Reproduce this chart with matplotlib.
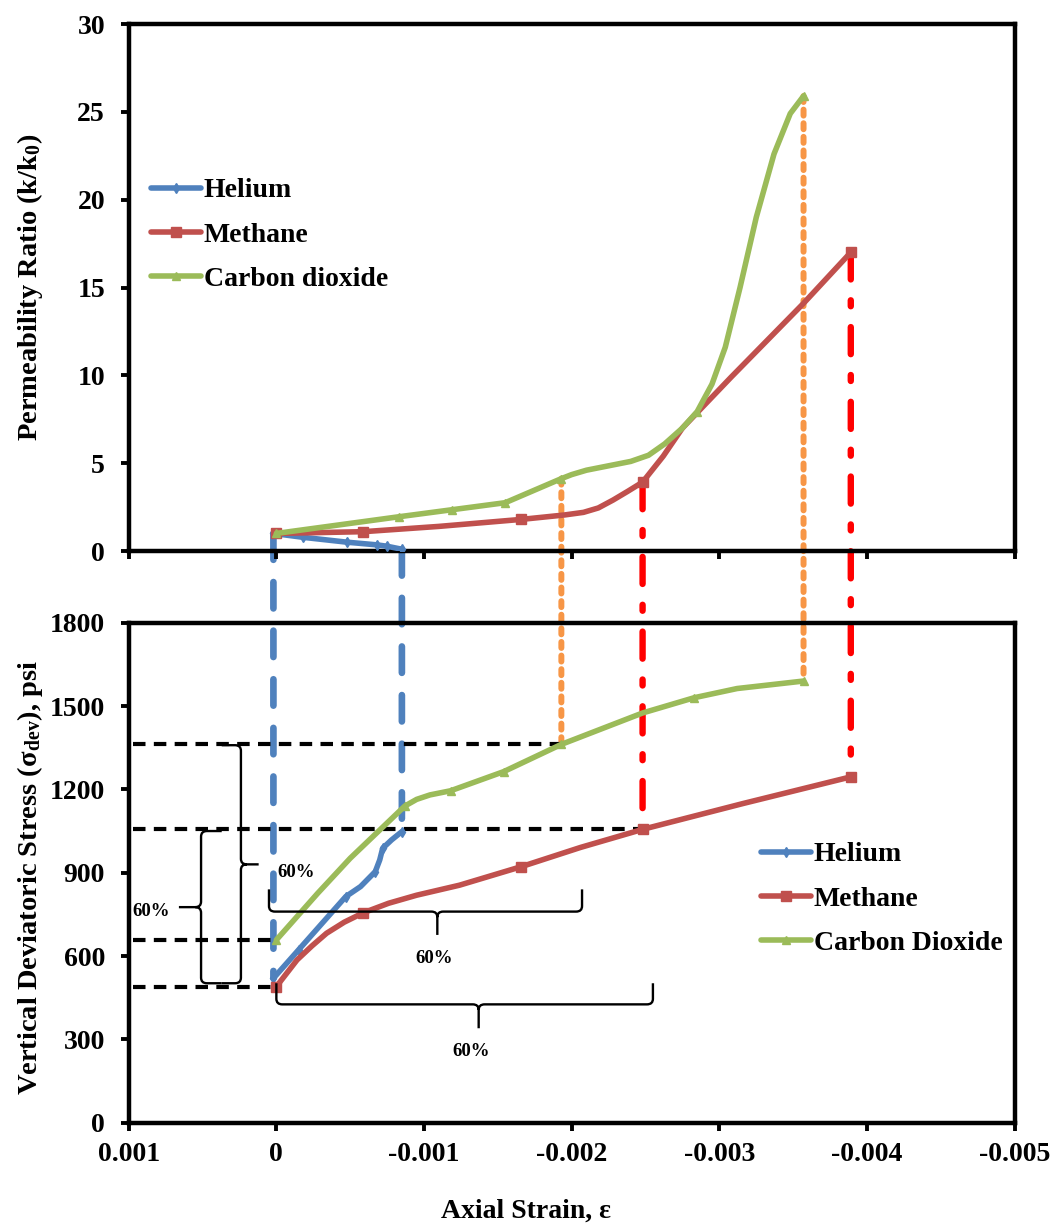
"""Permeability ratio and deviatoric stress vs axial strain (He, CH4, CO2)."""
import numpy as np
import matplotlib
matplotlib.use('Agg')
import matplotlib.pyplot as plt
from matplotlib.patches import ConnectionPatch, PathPatch
from matplotlib.path import Path

# ---- data ----
strain_ticks = [0.001, 0.0, -0.001, -0.002, -0.003, -0.004, -0.005]
strain_labels = ["0.001", "0", "-0.001", "-0.002", "-0.003", "-0.004", "-0.005"]
perm_ticks = [0, 5, 10, 15, 20, 25, 30]
stress_ticks = [0, 300, 600, 900, 1200, 1500, 1800]

# permeability ratio k/k0 (top panel)
he_k_x = [0.00002, -0.00018, -0.00048, -0.00068, -0.00075, -0.00085]
he_k_y = [1.0, 0.78, 0.5, 0.35, 0.27, 0.1]
ch4_k_x = [0.0, -0.00059, -0.0011, -0.00166, -0.00195, -0.00208, -0.00218,
           -0.00228, -0.00238, -0.00248, -0.00262, -0.00275, -0.00308,
           -0.00357, -0.00389]
ch4_k_y = [1.0, 1.1, 1.4, 1.8, 2.05, 2.2, 2.45, 2.9, 3.4, 3.92, 5.4, 7.0,
           9.9, 14.1, 17.0]
co2_k_x = [0.0, -0.00083, -0.00119, -0.00155, -0.00193, -0.002, -0.0021,
           -0.00225, -0.0024, -0.00252, -0.00263, -0.00275, -0.00285,
           -0.00295, -0.00304, -0.00314, -0.00325, -0.00337, -0.00348, -0.00357]
co2_k_y = [1.0, 1.95, 2.35, 2.75, 4.12, 4.35, 4.6, 4.85, 5.1, 5.45, 6.1,
           7.0, 7.94, 9.5, 11.6, 15.0, 19.0, 22.6, 24.9, 25.9]

# deviatoric stress, psi (bottom panel)
he_s_x = [0.00002, -0.00015, -0.00047, -0.00057, -0.00067, -0.0007, -0.00072,
          -0.00078, -0.00085]
he_s_y = [520, 622, 814, 850, 904, 946, 988, 1018, 1048]
ch4_s_x = [0.0, -0.00007, -0.00014, -0.00024, -0.00034, -0.00046, -0.00059,
           -0.00076, -0.00095, -0.00124, -0.00166, -0.00206, -0.00248,
           -0.00316, -0.00389]
ch4_s_y = [490, 538, 586, 636, 682, 722, 756, 790, 819, 855, 922, 991, 1056,
           1149, 1245]
co2_s_x = [0.0, -0.00028, -0.0005, -0.00087, -0.00095, -0.00104, -0.00118,
           -0.00154, -0.00193, -0.00248, -0.00283, -0.00312, -0.00357]
co2_s_y = [658, 826, 952, 1140, 1164, 1180, 1195, 1264, 1362, 1475, 1530,
           1563, 1590]

# indices carrying a marker (the rest are points along Excel's smoothed line)
he_k_mk = [0, 1, 2, 3, 4, 5]
ch4_k_mk = [0, 1, 3, 9, 14]
co2_k_mk = [0, 1, 2, 3, 4, 12, 19]
he_s_mk = [0, 1, 2, 4, 6, 8]
ch4_s_mk = [0, 6, 10, 12, 14]
co2_s_mk = [0, 3, 6, 7, 8, 10, 12]

plt.rcParams['font.family'] = ['Liberation Serif', 'DejaVu Serif']
plt.rcParams['font.weight'] = 'bold'
plt.rcParams['axes.labelweight'] = 'bold'
plt.rcParams['mathtext.fontset'] = 'custom'
plt.rcParams['mathtext.rm'] = 'Liberation Serif:bold'
plt.rcParams['mathtext.it'] = 'Liberation Serif:italic:bold'
plt.rcParams['mathtext.bf'] = 'Liberation Serif:bold'
plt.rcParams['lines.scale_dashes'] = False
plt.rcParams['axes.unicode_minus'] = False

C_HE, C_CH4, C_CO2 = '#4F81BD', '#C0504D', '#9BBB59'
W, H = 1053, 1225

def fx(px): return px / W
def fy(py): return 1 - py / H

fig = plt.figure(figsize=(W / 100, H / 100), dpi=100)
ax_k = fig.add_axes([fx(128.7), fy(551), fx(1014.7) - fx(128.7), fy(24) - fy(551)])
ax_s = fig.add_axes([fx(128.7), fy(1122.7), fx(1014.7) - fx(128.7), fy(622.7) - fy(1122.7)])

for ax in (ax_k, ax_s):
    ax.set_facecolor('none')
    ax.set_xlim(strain_ticks[0], strain_ticks[-1])
    ax.set_xticks(strain_ticks)
    for s in ax.spines.values():
        s.set_linewidth(3.2)
    ax.tick_params(direction='out', length=6, width=2.8, labelsize=20)
    ax.tick_params(axis='y', pad=11)
    ax.tick_params(axis='x', pad=8)

ax_k.set_ylim(0, 30); ax_k.set_yticks(perm_ticks)
ax_k.tick_params(axis='x', labelbottom=False)
ax_s.set_ylim(0, 1800); ax_s.set_yticks(stress_ticks)
ax_s.set_xticklabels(strain_labels)

def series(ax, x, y, mk, color, marker, ms, label):
    ax.plot(x, y, color=color, lw=4, marker=marker, ms=ms, markevery=mk,
            solid_joinstyle='round', solid_capstyle='round', label=label, zorder=3)

series(ax_k, he_k_x, he_k_y, he_k_mk, C_HE, 'd', 5, 'Helium')
series(ax_k, ch4_k_x, ch4_k_y, ch4_k_mk, C_CH4, 's', 7, 'Methane')
series(ax_k, co2_k_x, co2_k_y, co2_k_mk, C_CO2, '^', 6, 'Carbon dioxide')
series(ax_s, he_s_x, he_s_y, he_s_mk, C_HE, 'd', 5, 'Helium')
series(ax_s, ch4_s_x, ch4_s_y, ch4_s_mk, C_CH4, 's', 7, 'Methane')
series(ax_s, co2_s_x, co2_s_y, co2_s_mk, C_CO2, '^', 6, 'Carbon Dioxide')

# vertical connectors between the two panels
def connect(x, y_top, y_bot, color, ls, lw):
    con = ConnectionPatch(xyA=(x, y_top), coordsA='data', axesA=ax_k,
                          xyB=(x, y_bot), coordsB='data', axesB=ax_s,
                          color=color, lw=lw, linestyle=ls, zorder=-1)
    fig.add_artist(con)

blue_ls = (0, (19, 16))
orange_ls = (0, (4.3, 5.5))
red_ls = (0, (19.5, 15, 4.3, 15))
connect(he_k_x[0], he_k_y[0], he_s_y[0], C_HE, blue_ls, 4.8)
connect(he_k_x[-1], he_k_y[-1], he_s_y[-1], C_HE, blue_ls, 4.8)
connect(co2_k_x[4], co2_k_y[4], co2_s_y[8], '#F79646', orange_ls, 4.3)
connect(co2_k_x[-1], co2_k_y[-1], co2_s_y[-1], '#F79646', orange_ls, 4.3)
connect(ch4_k_x[9], ch4_k_y[9], ch4_s_y[12], '#FF0000', red_ls, 4.6)
connect(ch4_k_x[-1], ch4_k_y[-1], ch4_s_y[-1], '#FF0000', red_ls, 4.6)

# horizontal black dashed reference lines
x0 = 0.00097
for xe, ye in [(co2_s_x[8], co2_s_y[8]), (ch4_s_x[12], ch4_s_y[12]),
               (co2_s_x[0], co2_s_y[0]), (ch4_s_x[0], ch4_s_y[0])]:
    ax_s.plot([x0, xe], [ye, ye], color='black', lw=3, linestyle=(0, (9, 6)), zorder=2)

# curly braces
def brace(ua, ub, v0, vt, um, vn, ru, rv, vertical=False):
    su = np.sign(ub - ua); st = np.sign(vt - v0)
    def P(u, v): return (v, u) if vertical else (u, v)
    verts = [P(ua, vt), P(ua, v0 + st * rv), P(ua, v0), P(ua + su * ru, v0),
             P(um - su * ru, v0), P(um, v0), P(um, v0 - st * rv), P(um, vn),
             P(ub, vt), P(ub, v0 + st * rv), P(ub, v0), P(ub - su * ru, v0),
             P(um + su * ru, v0), P(um, v0), P(um, v0 - st * rv)]
    M, L, C = Path.MOVETO, Path.LINETO, Path.CURVE3
    codes = [M, L, C, C, L, C, C, L, M, L, C, C, L, C, C]
    ax_s.add_patch(PathPatch(Path(verts, codes), fill=False, lw=1.7, ec='black',
                             clip_on=False, zorder=4))

brace(502, 1359, 0.00024, 0.00037, 930, 0.00012, 20, 0.00004, vertical=True)
brace(502, 1050, 0.00051, 0.00037, 776, 0.00066, 20, 0.00004, vertical=True)
brace(0.00005, -0.00207, 760, 840, -0.00109, 676, 0.00004, 20)
brace(0.0, -0.00255, 426, 502, -0.00137, 340, 0.00004, 20)

tkw = dict(fontsize=13.5, fontweight='bold', va='center', zorder=5)
ax_s.text(-0.00001, 902, "60%", ha='left', **tkw)
ax_s.text(0.00085, 760, "60%", ha='center', **tkw)
ax_s.text(-0.00107, 592, "60%", ha='center', **tkw)
ax_s.text(-0.00132, 256, "60%", ha='center', **tkw)

# axis titles
ax_k.set_ylabel(r"Permeability Ratio (k/k$_{\mathrm{0}}$)", fontsize=20.5)
ax_s.set_ylabel(r"Vertical Deviatoric Stress (σ$_{\mathrm{dev}}$), psi", fontsize=20.5)
ax_k.yaxis.set_label_coords(-0.094, 0.5)
ax_s.yaxis.set_label_coords(-0.094, 0.49)
fig.text(fx(526), fy(1211), "Axial Strain, ε", ha='center', va='center',
         fontsize=20, fontweight='bold')

lkw = dict(frameon=False, fontsize=20, handlelength=1.8, handletextpad=0.1,
           labelspacing=0.68, borderpad=0, borderaxespad=0, numpoints=1,
           loc='upper left', bbox_transform=fig.transFigure)
leg = ax_k.legend(bbox_to_anchor=(fx(151), fy(178)), **lkw)
leg2 = ax_s.legend(bbox_to_anchor=(fx(761), fy(842)), **lkw)
for lg in (leg, leg2):
    for t in lg.get_texts():
        t.set_fontweight('bold')

fig.savefig("out.png", dpi=100, facecolor='white')
